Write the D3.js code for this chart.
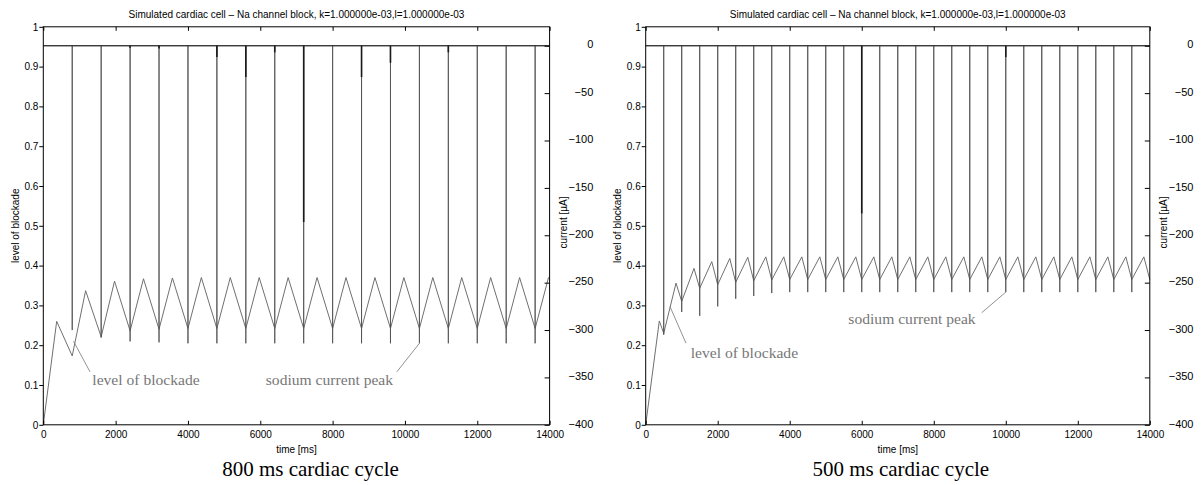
<!DOCTYPE html>
<meta charset="utf-8">
<style>
    body { margin: 0; background: #ffffff; }
    svg { display: block; background: #ffffff; font-family: "Liberation Sans", Arial, sans-serif; }
</style>

<script src="https://d3js.org/d3.v7.min.js"></script>

<svg id="fig" width="1201" height="485"></svg>

<script>

// =============================================================================
// Na channel block: blockade level and sodium current peak, two cycle lengths
// =============================================================================

// Data

var titleText = 'Simulated cardiac cell \u2013 Na channel block, k=1.000000e-03,l=1.000000e-03';

var timeTicks    = [0, 2000, 4000, 6000, 8000, 10000, 12000, 14000];
var blockTicks   = [0, 0.1, 0.2, 0.3, 0.4, 0.5, 0.6, 0.7, 0.8, 0.9, 1];
var currentTicks = [-400, -350, -300, -250, -200, -150, -100, -50, 0];

// 800 ms cycle
var blockTime800 = [0, 370, 800, 1170, 1600, 1970, 2400, 2770, 3200, 3570,
    4000, 4370, 4800, 5170, 5600, 5970, 6400, 6770, 7200, 7570, 8000, 8370,
    8800, 9170, 9600, 9970, 10400, 10770, 11200, 11570, 12000, 12370, 12800,
    13170, 13600, 13970, 14000];
var blockLevel800 = [0, 0.260, 0.173, 0.337, 0.221, 0.361, 0.236, 0.367, 0.240, 0.369,
    0.242, 0.370, 0.242, 0.370, 0.242, 0.370, 0.242, 0.370, 0.242, 0.370, 0.242, 0.370,
    0.242, 0.370, 0.242, 0.370, 0.242, 0.370, 0.242, 0.370, 0.242, 0.370, 0.242,
    0.370, 0.242, 0.370, 0.369];
var stimTime800 = [800, 1600, 2400, 3200, 4000, 4800, 5600, 6400, 7200, 8000,
    8800, 9600, 10400, 11200, 12000, 12800, 13600];
var naPeak800 = [-300, -308, -312, -313, -314, -314, -314, -314, -314, -314,
    -314, -314, -314, -314, -314, -314, -314];
var overlayTime800  = [2400, 3200, 4800, 5600, 6400, 7200, 8800, 9600, 11200];
var overlayDepth800 = [-2, -3, -12, -33, -7, -186, -33, -18, -7];

// 500 ms cycle
var blockTime500 = [0, 378, 500, 842, 1000, 1342, 1500, 1835, 2000, 2335,
    2500, 2835, 3000, 3335, 3500, 3835, 4000, 4335, 4500, 4835, 5000, 5335,
    5500, 5835, 6000, 6335, 6500, 6835, 7000, 7335, 7500, 7835, 8000, 8335,
    8500, 8835, 9000, 9335, 9500, 9835, 10000, 10335, 10500, 10835, 11000,
    11335, 11500, 11835, 12000, 12335, 12500, 12835, 13000, 13335, 13500,
    13835, 14000];
var blockLevel500 = [0, 0.261, 0.230, 0.356, 0.310, 0.393, 0.343, 0.410, 0.352, 0.418,
    0.358, 0.421, 0.362, 0.422, 0.364, 0.422, 0.365, 0.422, 0.365, 0.422, 0.365, 0.422,
    0.365, 0.422, 0.365, 0.422, 0.365, 0.422, 0.365, 0.422, 0.365, 0.422, 0.365, 0.422,
    0.365, 0.422, 0.365, 0.422, 0.365, 0.422, 0.365, 0.422, 0.365, 0.422, 0.365,
    0.422, 0.365, 0.422, 0.365, 0.422, 0.365, 0.422, 0.365, 0.422, 0.365,
    0.422, 0.365];
var stimTime500 = [500, 1000, 1500, 2000, 2500, 3000, 3500, 4000, 4500, 5000,
    5500, 6000, 6500, 7000, 7500, 8000, 8500, 9000, 9500, 10000, 10500, 11000,
    11500, 12000, 12500, 13000, 13500];
var naPeak500 = [-305, -281, -285, -275, -267, -264, -261, -260, -260, -260,
    -260, -260, -260, -260, -260, -260, -260, -260, -260, -260, -260, -260,
    -260, -260, -260, -260, -260];
var overlayTime500  = [6000, 10000];
var overlayDepth500 = [-177, -12];


// Layout

var svg = d3.select('svg#fig');

var plotTop = 26.8;
var plotBottom = 424.8;

var panels = [
    {
        x0: 43.3, x1: 549.6, captionX: 310.5,
        caption: '800 ms cardiac cycle',
        blockTime: blockTime800, blockLevel: blockLevel800,
        stimTime: stimTime800, naPeak: naPeak800,
        overlayTime: overlayTime800, overlayDepth: overlayDepth800,
        notes: [
            { text: 'level of blockade',   at: [1355, 0.100], from: [1292, 0.133], to: [835, 0.210] },
            { text: 'sodium current peak', at: [6152, 0.100], from: [9776, 0.133], toStim: 10400 }
        ]
    },
    {
        x0: 645.7, x1: 1149.8, captionX: 900.8,
        caption: '500 ms cardiac cycle',
        blockTime: blockTime500, blockLevel: blockLevel500,
        stimTime: stimTime500, naPeak: naPeak500,
        overlayTime: overlayTime500, overlayDepth: overlayDepth500,
        notes: [
            { text: 'level of blockade',   at: [1250, 0.168], from: [1119, 0.205], to: [675, 0.297] },
            { text: 'sodium current peak', at: [5628, 0.2545], from: [9333, 0.2817], toStim: 10000 }
        ]
    }
];

var axisFont = '"Liberation Sans", Arial, sans-serif';
var serifFont = '"Liberation Serif", "Times New Roman", serif';


function drawPanel (p) {
    var g = svg.append('g');

    var x = d3.scaleLinear().domain([0, 14000]).range([p.x0, p.x1]);
    var yBlock = d3.scaleLinear().domain([0, 1]).range([plotBottom, plotTop]);
    var yCur = d3.scaleLinear().domain([-400, 20]).range([plotBottom, plotTop]);
    var midX = (p.x0 + p.x1) / 2;

    // blockade level (zig-zag)
    var blockLine = d3.line()
        .x (function(d) { return x(d[0]); })
        .y (function(d) { return yBlock(d[1]); });

    g.append('path')
        .datum (d3.zip(p.blockTime, p.blockLevel))
        .attr ('fill', 'none')
        .attr ('stroke', '#707070')
        .attr ('stroke-width', 1)
        .attr ('d', blockLine);

    // sodium current: baseline at 0 with a spike at every stimulus
    var curPoints = [[0, 0]];
    p.stimTime.forEach(function (t, i) {
        curPoints.push([t, 0], [t, p.naPeak[i]], [t, 0]);
    });
    curPoints.push([14000, 0]);

    var curLine = d3.line()
        .x (function(d) { return x(d[0]); })
        .y (function(d) { return yCur(d[1]); });

    g.append('path')
        .datum (curPoints)
        .attr ('fill', 'none')
        .attr ('stroke', '#555555')
        .attr ('stroke-width', 0.9)
        .attr ('d', curLine);

    // zero-current baseline drawn darker
    g.append('line')
        .attr ('x1', p.x0).attr ('x2', p.x1)
        .attr ('y1', yCur(0)).attr ('y2', yCur(0))
        .attr ('stroke', '#222')
        .attr ('stroke-width', 1);

    // darker overlay segments at some stimuli
    g.selectAll ('line.overlay')
        .data (d3.zip(p.overlayTime, p.overlayDepth))
        .enter()
        .append ('line')
        .attr ('class', 'overlay')
        .attr ('x1', function(d) { return x(d[0]); })
        .attr ('x2', function(d) { return x(d[0]); })
        .attr ('y1', yCur(0))
        .attr ('y2', function(d) { return yCur(d[1]); })
        .attr ('stroke', '#1a1a1a')
        .attr ('stroke-width', 1.6);

    // annotations
    p.notes.forEach(function (n) {
        var tx, ty;
        if (n.toStim != null) {
            var idx = p.stimTime.indexOf(n.toStim);
            tx = x(n.toStim);
            ty = yCur(p.naPeak[idx]);
        } else {
            tx = x(n.to[0]);
            ty = yBlock(n.to[1]);
        }
        g.append('line')
            .attr ('x1', x(n.from[0])).attr ('y1', yBlock(n.from[1]))
            .attr ('x2', tx).attr ('y2', ty)
            .attr ('stroke', '#858585')
            .attr ('stroke-width', 0.9);
        g.append('text')
            .attr ('x', x(n.at[0]))
            .attr ('y', yBlock(n.at[1]))
            .attr ('font-family', serifFont)
            .attr ('font-size', '15.6px')
            .attr ('fill', '#777777')
            .text (n.text);
    });

    // frame
    g.append('rect')
        .attr ('x', p.x0).attr ('y', plotTop)
        .attr ('width', p.x1 - p.x0).attr ('height', plotBottom - plotTop)
        .attr ('fill', 'none')
        .attr ('stroke', '#000')
        .attr ('stroke-width', 1);

    // axes
    var bottomAxis = g.append('g')
        .attr ('transform', 'translate(0,' + plotBottom + ')')
        .call (d3.axisBottom(x).tickValues(timeTicks).tickSize(-4).tickPadding(6.5).tickFormat(d3.format('d')));

    var topAxis = g.append('g')
        .attr ('transform', 'translate(0,' + plotTop + ')')
        .call (d3.axisTop(x).tickValues(timeTicks).tickSize(-4).tickFormat(''));

    var leftAxis = g.append('g')
        .attr ('transform', 'translate(' + p.x0 + ',0)')
        .call (d3.axisLeft(yBlock).tickValues(blockTicks).tickSize(4).tickPadding(1).tickFormat(d3.format('~g')));

    var rightAxis = g.append('g')
        .attr ('transform', 'translate(' + p.x1 + ',0)')
        .call (d3.axisRight(yCur).tickValues(currentTicks).tickSize(-5).tickFormat(d3.format('d')));

    [bottomAxis, topAxis, leftAxis, rightAxis].forEach(function (a) {
        a.attr ('font-family', axisFont).attr ('font-size', 10);
        a.select ('.domain').remove();
        a.selectAll ('line').attr ('stroke', '#000');
        a.selectAll ('text').attr ('fill', '#000');
    });

    rightAxis.selectAll('text')
        .attr ('x', 43.7)
        .attr ('dy', '0.2em')
        .attr ('text-anchor', 'end')
        .attr ('font-size', '11px');

    // labels
    g.append('text')
        .attr ('x', midX).attr ('y', 17.6)
        .attr ('text-anchor', 'middle')
        .attr ('font-size', '10px')
        .text (titleText);

    g.append('text')
        .attr ('x', midX).attr ('y', 452.6)
        .attr ('text-anchor', 'middle')
        .attr ('font-size', '10px')
        .text ('time [ms]');

    g.append('text')
        .attr ('transform', 'translate(' + (p.x0 - 24.5) + ',' + ((plotTop + plotBottom) / 2) + ') rotate(-90)')
        .attr ('text-anchor', 'middle')
        .attr ('font-size', '10px')
        .text ('level of blockade');

    g.append('text')
        .attr ('transform', 'translate(' + (p.x1 + 17.3) + ',' + (222.5) + ') rotate(-90)')
        .attr ('text-anchor', 'middle')
        .attr ('font-size', '10px')
        .text ('current [\u00b5A]');

    g.append('text')
        .attr ('x', p.captionX).attr ('y', 476)
        .attr ('text-anchor', 'middle')
        .attr ('font-family', serifFont)
        .attr ('font-size', '21px')
        .attr ('fill', '#000')
        .text (p.caption);
}

panels.forEach(drawPanel);

</script>
